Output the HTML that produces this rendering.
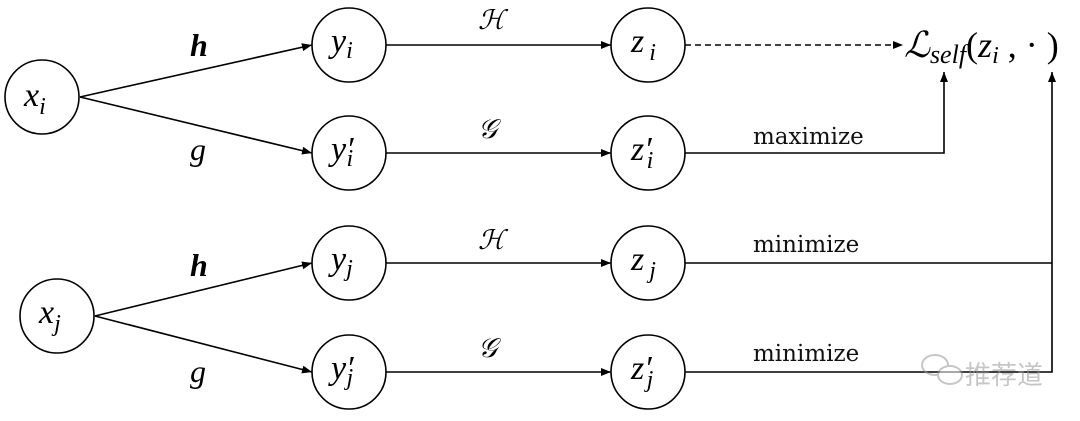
<!DOCTYPE html>
<html><head><meta charset="utf-8"><style>
html,body{margin:0;padding:0;background:#fff;}
svg{display:block;}
.m{font-family:"Liberation Serif",serif;font-style:italic;fill:#000;}
.t{font-family:"DejaVu Serif","Liberation Serif",serif;fill:#111;font-size:23px;}
</style></head><body>
<svg width="1080" height="421" viewBox="0 0 1080 421" xmlns="http://www.w3.org/2000/svg">
<defs><marker id="a" markerWidth="10" markerHeight="8" refX="10" refY="4" orient="auto" markerUnits="userSpaceOnUse"><path d="M0,0 L10,4 L0,8 z" fill="#000"/></marker></defs>
<g stroke="#000" stroke-width="1.6" fill="none">
<circle cx="42" cy="97" r="37"/>
<circle cx="349" cy="45" r="37"/>
<circle cx="349" cy="153" r="37"/>
<circle cx="648" cy="45" r="37"/>
<circle cx="648" cy="153" r="37"/>
<circle cx="57" cy="316" r="37"/>
<circle cx="349" cy="263" r="37"/>
<circle cx="349" cy="372" r="37"/>
<circle cx="648" cy="263" r="37"/>
<circle cx="648" cy="372" r="37"/>
<line x1="80" y1="97" x2="312" y2="45" marker-end="url(#a)"/>
<line x1="80" y1="97" x2="312" y2="153" marker-end="url(#a)"/>
<line x1="95" y1="316" x2="312" y2="263" marker-end="url(#a)"/>
<line x1="95" y1="316" x2="312" y2="372" marker-end="url(#a)"/>
<line x1="386" y1="45" x2="611" y2="45" marker-end="url(#a)"/>
<line x1="386" y1="153" x2="611" y2="153" marker-end="url(#a)"/>
<line x1="386" y1="263" x2="611" y2="263" marker-end="url(#a)"/>
<line x1="386" y1="372" x2="611" y2="372" marker-end="url(#a)"/>
<line x1="685" y1="45" x2="903" y2="45" stroke-dasharray="6,4" marker-end="url(#a)"/>
<polyline points="685,153 944,153 944,72" marker-end="url(#a)"/>
<line x1="685" y1="263" x2="1052" y2="263"/>
<polyline points="685,372 1052,372 1052,72" marker-end="url(#a)"/>
</g>
<g class="m">
<text x="24" y="106" font-size="34">x<tspan font-size="24" dy="8">i</tspan></text>
<text x="331" y="52" font-size="34">y<tspan font-size="24" dy="6">i</tspan></text>
<text x="331" y="160" font-size="34">y′<tspan font-size="24" dy="6" dx="-7">i</tspan></text>
<text x="631" y="52" font-size="34">z<tspan font-size="24" dy="8" dx="5">i</tspan></text>
<text x="631" y="160" font-size="34">z′<tspan font-size="24" dy="8" dx="-5">i</tspan></text>
<text x="39" y="323" font-size="34">x<tspan font-size="24" dy="8">j</tspan></text>
<text x="331" y="270" font-size="34">y<tspan font-size="24" dy="6">j</tspan></text>
<text x="331" y="379" font-size="34">y′<tspan font-size="24" dy="6" dx="-7">j</tspan></text>
<text x="631" y="270" font-size="34">z<tspan font-size="24" dy="8" dx="5">j</tspan></text>
<text x="631" y="379" font-size="34">z′<tspan font-size="24" dy="8" dx="-5">j</tspan></text>
<text x="190" y="56" font-size="32" font-weight="bold">h</text>
<text x="190" y="160" font-size="32">g</text>
<text x="190" y="276" font-size="32" font-weight="bold">h</text>
<text x="190" y="382" font-size="32">g</text>
<text x="478" y="29" font-size="27">ℋ</text>
<text x="478" y="138" font-size="27">𝒢</text>
<text x="478" y="249" font-size="27">ℋ</text>
<text x="478" y="357" font-size="27">𝒢</text>
<text x="904" y="57" font-size="36">ℒ<tspan font-size="26" dy="6">self</tspan><tspan font-style="normal" dy="-6">(</tspan>z<tspan font-size="24" dy="6">i</tspan><tspan font-style="normal" dy="-6"> , · )</tspan></text>
</g>
<text class="t" x="753" y="144">maximize</text>
<text class="t" x="753" y="252">minimize</text>
<text class="t" x="753" y="361">minimize</text>
<g opacity="0.55">
<ellipse cx="935" cy="365" rx="13" ry="10" fill="none" stroke="#999" stroke-width="2"/>
<ellipse cx="950" cy="375" rx="12" ry="9" fill="#fff" stroke="#999" stroke-width="2"/>
<text x="965" y="384" font-family="'Noto Sans CJK SC',sans-serif" font-size="26" fill="#999">推荐道</text>
</g>
</svg>
</body></html>
